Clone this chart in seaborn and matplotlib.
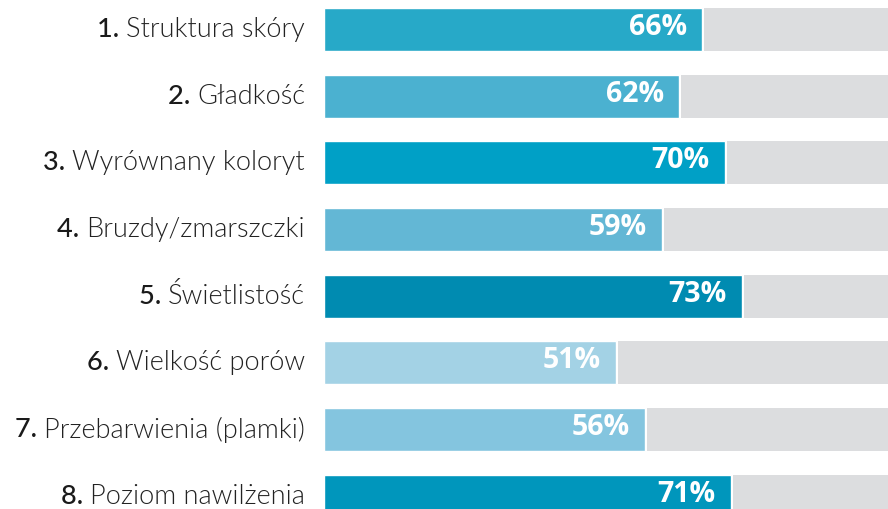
import numpy as np
import pandas as pd
import matplotlib.pyplot as plt
import seaborn as sns

numbers = ["1.", "2.", "3.", "4.", "5.", "6.", "7.", "8."]
names = ["Struktura skóry", "Gładkość", "Wyrównany koloryt", "Bruzdy/zmarszczki",
         "Świetlistość", "Wielkość porów", "Przebarwienia (plamki)", "Poziom nawilżenia"]
values = [66, 62, 70, 59, 73, 51, 56, 71]
colors = ["#27A9C8", "#4BB1D0", "#00A0C6", "#63B7D5",
          "#008BB1", "#A3D2E5", "#84C5DF", "#0096BC"]
full = 100

df = pd.DataFrame({"name": names, "value": values})

sns.set_style("white")
plt.rcParams['font.family'] = ['Lato', 'DejaVu Sans']

fig = plt.figure(figsize=(8.88, 5.09), dpi=100)
ax = fig.add_axes([324 / 888, 0, 564 / 888, 1])

#-------colored bars-------
sns.barplot(data=df, x="value", y="name", hue="name", palette=colors,
            orient="h", width=0.645, legend=False, saturation=1, ax=ax)

#-------gray remainder-------
gap = 0.35
pos = np.arange(len(values))
ax.barh(pos, [full - v - gap for v in values], left=[v + gap for v in values],
        height=0.645, color="#DCDDDF", linewidth=0)

ax.set_xlim(0, 98.5)
ax.set_ylim(7.19, -0.442)
ax.axis("off")

#-------value labels-------
for i, v in enumerate(values):
    ax.annotate(f"{v}%", xy=(v, i), xytext=(-15, 2), textcoords="offset pixels",
                ha="right", va="center", color="white", fontsize=20.5,
                fontweight="bold", family=["Open Sans", "DejaVu Sans"])

#-------category labels-------
fig.canvas.draw()
renderer = fig.canvas.get_renderer()
for i, (num, name) in enumerate(zip(numbers, names)):
    t = ax.annotate(name, xy=(0, i), xytext=(-19, 0), textcoords="offset pixels",
                    ha="right", va="center", color="#222222", fontsize=19.5,
                    fontweight=300)
    w = t.get_window_extent(renderer).width
    ax.annotate(num + " ", xy=(0, i), xytext=(-19 - w, 0), textcoords="offset pixels",
                ha="right", va="center", color="#1a1a1a", fontsize=19.5,
                fontweight=500)

plt.savefig("out.png", dpi=100)
